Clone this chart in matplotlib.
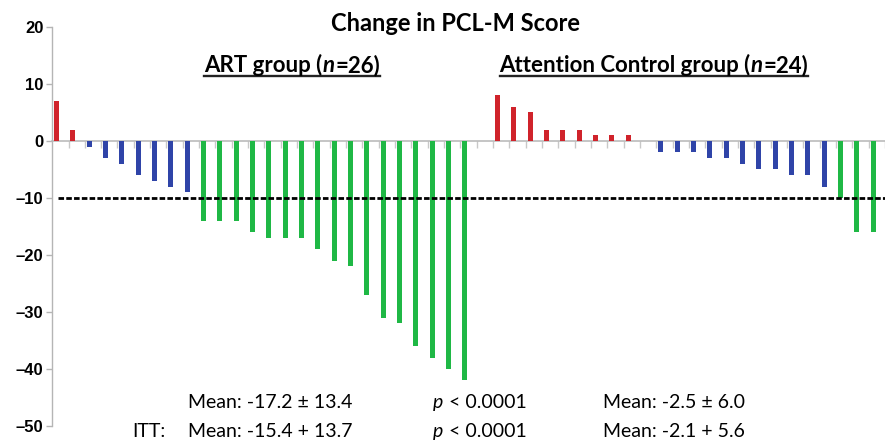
import numpy as np
import matplotlib
matplotlib.use("Agg")
import matplotlib.pyplot as plt
from matplotlib.lines import Line2D
from matplotlib.ticker import FuncFormatter

# change in PCL-M score per participant, sorted within group
art_change = [7, 2, -1, -3, -4, -6, -7, -8, -9,
              -14, -14, -14, -16, -17, -17, -17, -19, -21, -22,
              -27, -31, -32, -36, -38, -40, -42]
ac_change = [8, 6, 5, 2, 2, 2, 1, 1, 1, 0,
             -2, -2, -2, -3, -3, -4, -5, -5, -6, -6, -8,
             -10, -16, -16]
threshold = -10
y_ticks = [20, 10, 0, -10, -20, -30, -40, -50]

title = "Change in PCL-M Score"
art_label = [("ART group (", "bold"), ("n", "bolditalic"), ("=26)", "bold")]
ac_label = [("Attention Control group (", "bold"), ("n", "bolditalic"), ("=24)", "bold")]
row1 = ["Mean: -17.2 \u00b1 13.4", "< 0.0001", "Mean: -2.5 \u00b1 6.0"]
row2 = ["Mean: -15.4 + 13.7", "< 0.0001", "Mean: -2.1 + 5.6"]

RED, BLUE, GREEN = "#d0232b", "#2f44a8", "#1fb845"
FONT = "Lato"

values = np.array(art_change + [np.nan] + ac_change, dtype=float)
xs = np.arange(len(values))
colors = []
for v in values:
    if np.isnan(v) or v > 0:
        colors.append(RED)
    elif v > threshold:
        colors.append(BLUE)
    else:
        colors.append(GREEN)

fig = plt.figure(figsize=(8.85, 4.41), dpi=100)
ax = fig.add_axes([0.0584, 0.034, 0.9416, 0.9048])

mask = ~np.isnan(values)
ax.bar(xs[mask], values[mask], width=0.3, color=np.array(colors)[mask], zorder=3)
ax.hlines(threshold, 0.1, len(values), colors="black", linestyles=(0, (2.0, 0.8)),
          linewidth=2.0, zorder=4)

ax.set_xlim(-0.3, 50.45)
ax.set_ylim(-50, 20)
ax.set_yticks(y_ticks)
ax.yaxis.set_major_formatter(FuncFormatter(lambda v, p: f"{v:.0f}".replace("-", "\u2013")))
ax.set_xticks(np.arange(1, len(values) + 1) - 0.27)
ax.set_xticklabels([])

for s in ["top", "right"]:
    ax.spines[s].set_visible(False)
ax.spines["bottom"].set_position(("data", 0))
ax.spines["bottom"].set_color("#b5b5b5")
ax.spines["bottom"].set_linewidth(1.1)
ax.spines["left"].set_color("#b5b5b5")
ax.spines["left"].set_linewidth(1.0)
ax.tick_params(axis="x", length=5, width=1, color="#c8c8c8", direction="out")
ax.tick_params(axis="y", length=4, width=1, color="#b5b5b5", pad=2)
for lab in ax.get_yticklabels():
    lab.set_fontfamily("Liberation Sans")
    lab.set_fontweight("bold")
    lab.set_fontsize(12)

fig.text(0.515, 0.9456, title, ha="center", va="center",
         fontfamily=FONT, fontweight="bold", fontsize=17)

renderer = fig.canvas.get_renderer()
W, H = fig.get_size_inches() * fig.dpi


def style_kw(style):
    kw = {"fontfamily": FONT}
    if "bold" in style:
        kw["fontweight"] = "bold"
    if "italic" in style:
        kw["fontstyle"] = "italic"
    return kw


def draw_runs(runs, x, y, size, center=False, underline=False):
    # lay out text pieces one after another (for mixed italic / bold)
    texts = []
    px = x * W
    for s, style in runs:
        t = fig.text(px / W, y, s, ha="left", va="baseline", fontsize=size, **style_kw(style))
        bb = t.get_window_extent(renderer)
        texts.append(t)
        px += bb.width + (size * 0.06 if "italic" in style else 0)
    total = px - x * W
    if center:
        for t in texts:
            tx, ty = t.get_position()
            t.set_position((tx - total / 2 / W, ty))
        x0 = x * W - total / 2
    else:
        x0 = x * W
    if underline:
        yy = y * H - size * 0.25
        fig.add_artist(Line2D([x0 / W, (x0 + total) / W], [yy / H, yy / H],
                              color="#222222", linewidth=1.7))


draw_runs(art_label, 0.330, 0.836, 16, center=True, underline=True)
draw_runs(ac_label, 0.739, 0.836, 16, center=True, underline=True)

size = 14
y1, y2 = 0.074, 0.008
fig.text(0.150, y2, "ITT:", fontfamily=FONT, fontsize=size, va="baseline")
for y, row in [(y1, row1), (y2, row2)]:
    draw_runs([(row[0], "")], 0.2125, y, size)
    draw_runs([("p", "italic"), (" " + row[1], "")], 0.489, y, size)
    draw_runs([(row[2], "")], 0.681, y, size)

fig.savefig("out.png", dpi=100, facecolor="white")
